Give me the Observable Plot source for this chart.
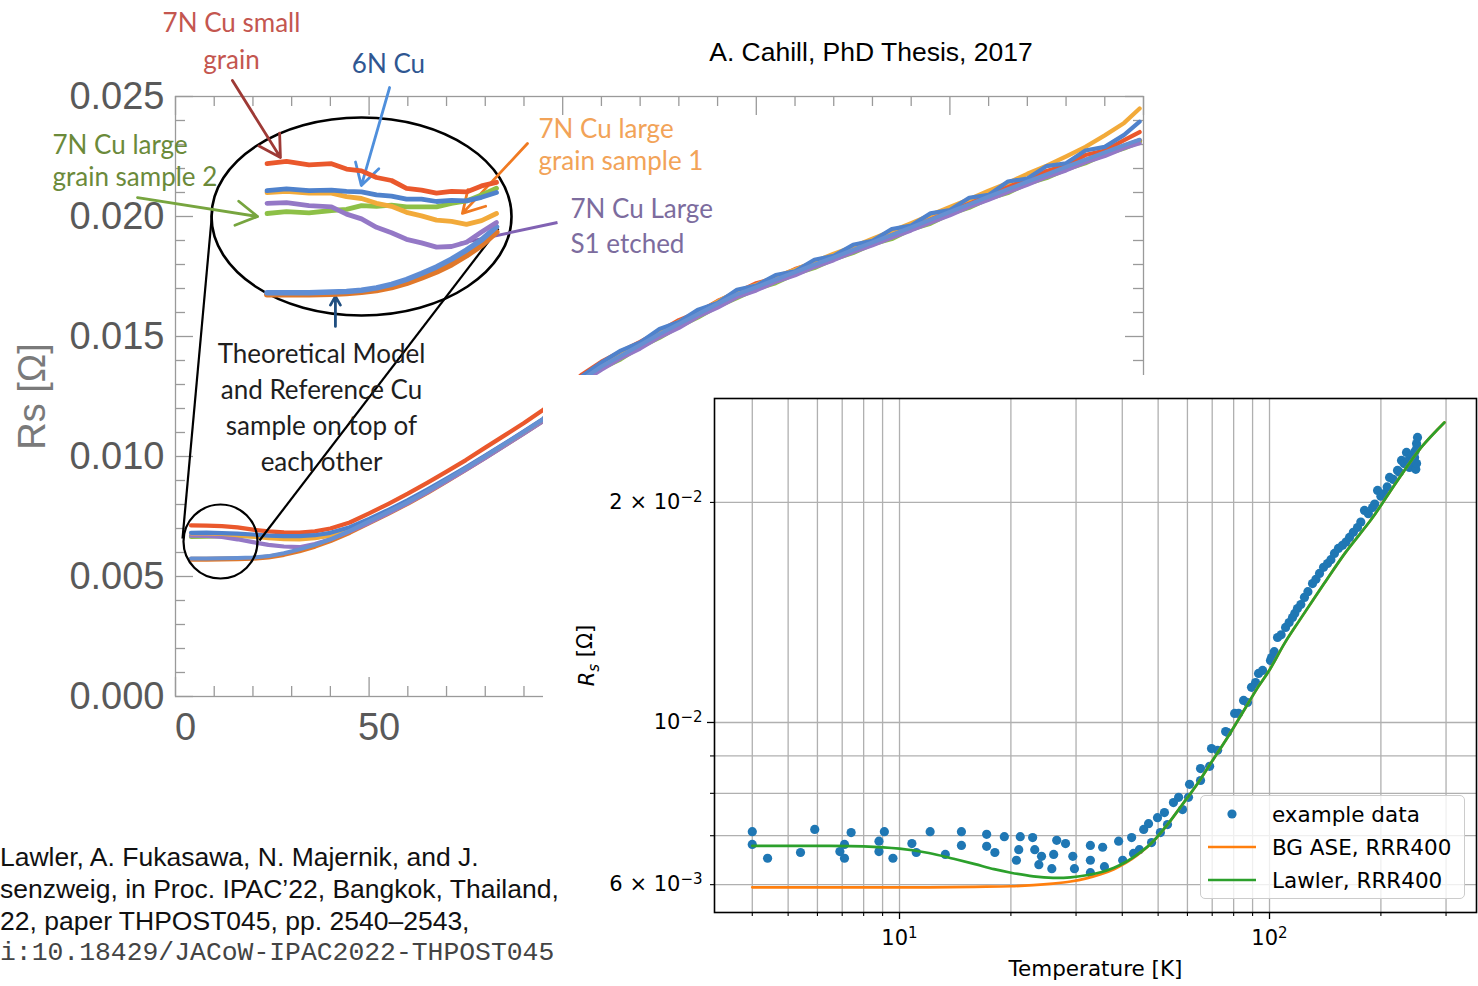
<!DOCTYPE html>
<html>
<head>
<meta charset="utf-8">
<script src="https://cdn.jsdelivr.net/npm/d3@7"></script>
<script src="https://cdn.jsdelivr.net/npm/@observablehq/plot@0.6"></script>
<style>
  html, body { margin: 0; padding: 0; background: #fff; }
  #page { position: relative; width: 1478px; height: 986px; overflow: hidden; background: #fff;
          font-family: "Liberation Sans", Arial, sans-serif; }
  #page > .layer { position: absolute; left: 0; top: 0; }
  #title { position: absolute; left: 871px; top: 52px; transform: translate(-50%, -50%);
           font-size: 26.5px; color: #000; white-space: nowrap; }
  #cite { position: absolute; left: 0; top: 841px; font-size: 26.5px; line-height: 32px; color: #111; white-space: nowrap; z-index: 5; }
  #cite .mono { font-family: "Liberation Mono", "DejaVu Sans Mono", monospace; font-size: 26.4px; color: #444; }
  #rightBox { position: absolute; left: 543px; top: 375px; width: 935px; height: 611px; background: #fff; z-index: 2; }
  #legend { position: absolute; left: 657px; top: 420px; width: 265px; height: 104px; box-sizing: border-box;
            background: rgba(255,255,255,0.8); border: 1px solid #cccccc; border-radius: 5px;
            font-family: "DejaVu Sans", sans-serif; font-size: 21.5px; color: #000; }
  #legend .row { position: absolute; left: 0; height: 30px; width: 100%; }
  #legend .row svg { position: absolute; left: 0; top: 0; }
  #legend .row span { position: absolute; left: 71px; top: 50%; transform: translateY(-50%); white-space: nowrap; }
</style>
</head>
<body>
<div id="page"></div>
<script>
// ================= DATA =================
// ---- Left chart (A. Cahill thesis): Rs [Ω] vs temperature [K], linear axes ----
const leftT = [4, 8, 12, 16, 20, 24, 28, 32, 36, 40, 45, 50, 55, 60, 65, 70, 75, 80, 85, 90, 95,
  100, 105, 110, 115, 120, 125, 130, 135, 140, 145, 150, 155, 160, 165, 170, 175, 180, 185, 190, 195,
  200, 205, 210, 215, 220, 225, 230, 235, 240, 245, 249];

const smallGrain7N = [0.00713, 0.00712, 0.0071, 0.00705, 0.00695, 0.00688, 0.00684, 0.00683, 0.00688, 0.00700, 0.00725, 0.00763, 0.00803, 0.00845, 0.00890, 0.00937, 0.00985, 0.01037, 0.01088, 0.01140, 0.01195,
  0.0127, 0.01342, 0.01395, 0.01437, 0.01478, 0.01522, 0.01568, 0.01601, 0.01648, 0.01684, 0.01722, 0.01744, 0.01781, 0.01806, 0.01842, 0.01866, 0.01905, 0.01928, 0.01966, 0.01992, 0.02031, 0.02058, 0.02092, 0.02126, 0.02151, 0.02190, 0.02214, 0.02256, 0.02275, 0.02318, 0.02352];
const cu6N = [0.00682, 0.00683, 0.00681, 0.00679, 0.00675, 0.00670, 0.00668, 0.00668, 0.00672, 0.00682, 0.00705, 0.00740, 0.00778, 0.00818, 0.00862, 0.00908, 0.00955, 0.01004, 0.01054, 0.01105, 0.01157,
  0.01262, 0.01335, 0.01392, 0.01441, 0.01475, 0.01531, 0.01560, 0.01612, 0.01640, 0.01695, 0.01712, 0.01756, 0.01772, 0.01820, 0.01836, 0.01882, 0.01899, 0.01948, 0.01962, 0.02013, 0.02027, 0.02078, 0.02090, 0.02146, 0.02158, 0.02210, 0.02222, 0.02275, 0.02290, 0.02340, 0.02395];
const largeSample1 = [0.00680, 0.00680, 0.00677, 0.00672, 0.00666, 0.00660, 0.00656, 0.00655, 0.00660, 0.00672, 0.00697, 0.00733, 0.00773, 0.00814, 0.00858, 0.00905, 0.00953, 0.01002, 0.01052, 0.01103, 0.01155,
  0.01258, 0.0133, 0.01385, 0.01432, 0.01472, 0.01520, 0.01562, 0.01602, 0.01645, 0.01688, 0.01716, 0.01750, 0.01778, 0.01812, 0.01845, 0.01874, 0.01908, 0.01940, 0.01972, 0.02006, 0.02040, 0.02072, 0.02108, 0.02140, 0.02178, 0.02212, 0.02250, 0.02290, 0.02338, 0.02390, 0.02450];
const largeSample2 = [0.00665, 0.00666, 0.00668, 0.00668, 0.00667, 0.00665, 0.00662, 0.00660, 0.00662, 0.00670, 0.00692, 0.00727, 0.00766, 0.00808, 0.00852, 0.00899, 0.00947, 0.00996, 0.01047, 0.01098, 0.0115,
  0.01242, 0.01312, 0.01366, 0.01405, 0.01456, 0.01494, 0.01541, 0.01580, 0.01625, 0.01660, 0.01698, 0.01722, 0.01760, 0.01785, 0.01822, 0.01848, 0.01884, 0.01906, 0.01946, 0.01970, 0.02010, 0.02036, 0.02074, 0.02098, 0.02136, 0.02160, 0.02196, 0.02222, 0.02258, 0.02283, 0.02310];
const largeS1Etched = [0.00670, 0.00669, 0.00665, 0.00655, 0.00643, 0.00632, 0.00625, 0.00622, 0.00635, 0.00655, 0.00688, 0.00724, 0.00764, 0.00806, 0.00850, 0.00897, 0.00945, 0.00994, 0.01045, 0.01096, 0.01148,
  0.01240, 0.0131, 0.01362, 0.01410, 0.01450, 0.01498, 0.01536, 0.01584, 0.01620, 0.01664, 0.01692, 0.01728, 0.01755, 0.01790, 0.01818, 0.01852, 0.01880, 0.01912, 0.01942, 0.01975, 0.02005, 0.02040, 0.02070, 0.02102, 0.02132, 0.02165, 0.02192, 0.02226, 0.02252, 0.02285, 0.02305];
const theoryModel = [0.00575, 0.00575, 0.00576, 0.00577, 0.00579, 0.00585, 0.00597, 0.00613, 0.00632, 0.00655, 0.0069, 0.0073, 0.0077, 0.0081, 0.00855, 0.00903, 0.00951, 0.01001, 0.01052, 0.01103, 0.01155,
  0.0125, 0.0132, 0.01375, 0.0142, 0.01465, 0.0151, 0.01552, 0.01594, 0.01636, 0.01676, 0.01706, 0.01737, 0.01768, 0.01799, 0.0183, 0.01861, 0.01892, 0.01923, 0.01955, 0.01987, 0.02019, 0.02051, 0.02083, 0.02114, 0.02145, 0.02176, 0.02207, 0.02237, 0.02267, 0.02297, 0.0232];
const referenceCu = [0.00572, 0.00572, 0.00573, 0.00574, 0.00576, 0.00581, 0.00592, 0.00607, 0.00626, 0.00649, 0.00684, 0.00724, 0.00764, 0.00805, 0.0085, 0.00898, 0.00946, 0.00996, 0.01047, 0.01098, 0.0115,
  0.01246, 0.01316, 0.01371, 0.01416, 0.01461, 0.01506, 0.01548, 0.0159, 0.01632, 0.01672, 0.01702, 0.01733, 0.01764, 0.01795, 0.01826, 0.01857, 0.01888, 0.01919, 0.01951, 0.01983, 0.02015, 0.02047, 0.02079, 0.0211, 0.02141, 0.02172, 0.02203, 0.02233, 0.02263, 0.02293, 0.02316];

// magnified inset (inside the ellipse): low-temperature detail
const insetT = [5.7, 7, 8.5, 10, 11, 12, 13, 14, 15, 16, 17, 18, 19, 20, 21];
const insetSmallGrain = [0.00733, 0.00737, 0.00731, 0.00733, 0.00724, 0.00721, 0.00710, 0.00705, 0.00692, 0.00689, 0.00684, 0.00687, 0.00686, 0.00696, 0.00702];
const inset6N = [0.00688, 0.00691, 0.00688, 0.00689, 0.00687, 0.00686, 0.00681, 0.00679, 0.00674, 0.00674, 0.00670, 0.00672, 0.00671, 0.00677, 0.00685];
const insetSample1 = [0.00685, 0.00687, 0.00684, 0.00684, 0.00678, 0.00675, 0.00667, 0.00662, 0.00652, 0.00646, 0.00639, 0.00637, 0.00632, 0.00638, 0.00650];
const insetSample2 = [0.0065, 0.00653, 0.00651, 0.00655, 0.00657, 0.00663, 0.00662, 0.00664, 0.00661, 0.00661, 0.00661, 0.00667, 0.00671, 0.00681, 0.00692];
const insetEtched = [0.00667, 0.00668, 0.00663, 0.00661, 0.00649, 0.00641, 0.00627, 0.00618, 0.00607, 0.00601, 0.00594, 0.00595, 0.00602, 0.00619, 0.00635];
const insetModel = [0.00518, 0.00518, 0.00518, 0.00519, 0.0052, 0.00522, 0.00526, 0.00532, 0.0054, 0.0055, 0.00561, 0.00574, 0.00589, 0.00606, 0.00628];
const insetReference = [0.00515, 0.00515, 0.00515, 0.00516, 0.00517, 0.00519, 0.00522, 0.00527, 0.00534, 0.00543, 0.00553, 0.00565, 0.00580, 0.00597, 0.00619];

const leftXTicksMajor = [0, 50, 100, 150, 200, 250];
const leftXTicksMinor = [10, 20, 30, 40, 60, 70, 80, 90, 110, 120, 130, 140, 160, 170, 180, 190, 210, 220, 230, 240];
const leftXLabels = [0, 50, 100];
const leftYTicksMajor = [0, 0.005, 0.01, 0.015, 0.02, 0.025];
const leftYTicksMinor = [0.001, 0.002, 0.003, 0.004, 0.006, 0.007, 0.008, 0.009, 0.011, 0.012, 0.013, 0.014, 0.016, 0.017, 0.018, 0.019, 0.021, 0.022, 0.023, 0.024];

// annotations on the left chart (in data units of that chart)
const leftLabels = [
  {T: 14.46, Rs: 0.027396, text: "7N Cu small\ngrain", color: "#c4564f", anchor: "middle", lh: 1.42},
  {T: 55.01, Rs: 0.026375, text: "6N Cu", color: "#2f5792", anchor: "middle", lh: 1.2},
  {T: -31.77, Rs: 0.022375, text: "7N Cu large\ngrain sample 2", color: "#6b8a3a", anchor: "start", lh: 1.23},
  {T: 93.75, Rs: 0.023042, text: "7N Cu large\ngrain sample 1", color: "#f2a358", anchor: "start", lh: 1.23},
  {T: 102.01, Rs: 0.019688, text: "7N Cu Large\nS1 etched", color: "#7c6c9e", anchor: "start", lh: 1.35},
  {T: 37.71, Rs: 0.012125, text: "Theoretical Model\nand Reference Cu\nsample on top of\neach other", color: "#1e1e1e", anchor: "middle", lh: 1.38}
];
const leftArrows = [
  {x1: 14.7, y1: 0.02567, x2: 27.1, y2: 0.02246, color: "#9e3a36"},
  {x1: 55.3, y1: 0.025375, x2: 48.0, y2: 0.02129, color: "#4f8fdc"},
  {x1: -9.8, y1: 0.02079, x2: 21.2, y2: 0.0200, color: "#77a53f"},
  {x1: 90.9, y1: 0.02304, x2: 74.1, y2: 0.02013, color: "#f07a22"},
  {x1: 41.3, y1: 0.01542, x2: 41.3, y2: 0.01667, color: "#1f4e80"}
];
const leftPurpleLine = [{x1: 98.66, y1: 0.01975, x2: 73.3, y2: 0.018875}];
const zoomLinks = [
  {x1: 9.56, y1: 0.020333, x2: 1.81, y2: 0.006583},
  {x1: 83.42, y1: 0.0195, x2: 21.69, y2: 0.0065}
];
const zoomEllipse = [{T: 48.04, Rs: 0.0200}];
const zoomCircle = [{T: 11.62, Rs: 0.006458}];

// ---- Right chart (Lawler et al., IPAC'22): log-log ----
const scatterT = [4.0, 4.0, 4.4, 5.4, 5.9, 6.9, 7.1, 7.1, 7.4, 8.8, 8.8, 9.1, 9.6, 10.8, 11.1, 12.1, 13.3, 14.7, 14.7,
  17.2, 17.2, 18.1, 19.2, 20.7, 21.0, 21.2, 22.9, 23.2, 23.8, 24.2, 25.8, 26.1, 26.6, 28.1, 29.4, 29.7,
  32.8, 32.8, 32.8, 35.4, 35.8, 39.1, 40.1, 42.4, 42.9, 44.5, 45.7, 47.1, 48.0, 49.8, 50.7, 52.0, 53.0,
  55.0, 56.8, 58.2, 60.8, 60.4, 65.1, 65.1, 68.9, 69.7, 72.4, 76.1, 77.0, 80.5, 82.5, 85.1, 87.2, 89.4,
  91.7, 93.4, 95.8, 100.6, 101.3, 103, 105.1, 107.5, 110.5, 113, 115.4, 117, 119.0, 121.5, 124.3, 127,
  130.7, 133.5, 136.5, 140, 143.5, 146.5, 149.8, 153.5, 157.5, 161, 164.5, 168.5, 172.9, 176.5, 180.6,
  185, 189.9, 192.5, 195.9, 200, 204.6, 208, 211.1, 216, 221.8, 224.5, 227.4, 231, 234.6, 237, 239.0,
  242, 244, 245.5, 246.6, 247.5, 248.5, 249.7, 249.7, 250.5, 251.2];
const scatterRs = [0.00709, 0.00681, 0.00652, 0.00664, 0.00714, 0.00666, 0.00681, 0.00652, 0.00707, 0.00688, 0.00666, 0.00709, 0.00652, 0.00683, 0.00664, 0.00709, 0.0066, 0.00709, 0.00679,
  0.00703, 0.00677, 0.00664, 0.00698, 0.00648, 0.0067, 0.00698, 0.00696, 0.0067, 0.00639, 0.00656, 0.00631, 0.0066, 0.0069, 0.00683, 0.00656, 0.00631,
  0.00679, 0.00648, 0.00623, 0.00675, 0.00635, 0.00688, 0.00648, 0.00696, 0.00662, 0.0067, 0.00714, 0.00727, 0.00685, 0.00741, 0.00707, 0.00753, 0.00725,
  0.00777, 0.0079, 0.0076, 0.00823, 0.0079, 0.00865, 0.00833, 0.00871, 0.00921, 0.00916, 0.00972, 0.00969, 0.01029, 0.01029, 0.01072, 0.01065, 0.01117,
  0.01134, 0.01167, 0.01178, 0.01216, 0.01227, 0.0125, 0.01307, 0.01318, 0.01349, 0.0137, 0.01392, 0.0141, 0.01432, 0.0145, 0.01483, 0.0151,
  0.01549, 0.0157, 0.01599, 0.0163, 0.0165, 0.0167, 0.01703, 0.0173, 0.01747, 0.01765, 0.01791, 0.0182, 0.01848, 0.0188, 0.0195,
  0.0193, 0.01968, 0.0199, 0.02077, 0.0204, 0.02057, 0.021, 0.02164, 0.0215, 0.02212, 0.022, 0.02283, 0.0226, 0.02341, 0.0228, 0.02233,
  0.0232, 0.0228, 0.0229, 0.02304, 0.0235, 0.0222, 0.02408, 0.02261, 0.0238, 0.02454];

const bgAseT = [4, 8, 12, 16, 20, 23, 26, 29, 32, 35, 38, 41, 44, 48, 53, 58, 64, 70, 77, 85, 93, 100, 110, 120, 140, 160, 190, 220, 257, 297];
const bgAseRs = [0.00595, 0.00595, 0.00595, 0.00596, 0.00597, 0.00599, 0.00602, 0.00606, 0.00612, 0.0062, 0.0063, 0.00643, 0.00659, 0.00684, 0.00725, 0.00771, 0.00826, 0.00886, 0.00954, 0.01036, 0.01117, 0.0118, 0.01285, 0.01375, 0.01545, 0.01705, 0.01907, 0.0213, 0.02378, 0.02573];
const lawlerT = [4, 6, 8, 10, 12, 14, 16, 18, 20, 23, 26, 29, 32, 35, 38, 41, 44, 48, 53, 58, 64, 70, 77, 85, 93, 100, 110, 120, 140, 160, 190, 220, 257, 297];
const lawlerRs = [0.00678, 0.00678, 0.00677, 0.00672, 0.00663, 0.00651, 0.0064, 0.0063, 0.00623, 0.00616, 0.00613, 0.00614, 0.00618, 0.00624, 0.00633, 0.00645, 0.0066, 0.00684, 0.00725, 0.00771, 0.00826, 0.00886, 0.00954, 0.01036, 0.01117, 0.0118, 0.01285, 0.01375, 0.01545, 0.01705, 0.01907, 0.0213, 0.02378, 0.02573];

const rightXMajor = [10, 100];
const rightXMinor = [4, 5, 6, 7, 8, 9, 20, 30, 40, 50, 60, 70, 80, 90, 200, 300];
const rightYMajor = [0.01];
const rightYMinor = [0.006, 0.007, 0.008, 0.009, 0.02];
// "^" separates the base from the superscript exponent
const rightXTickText = {10: "10^1", 100: "10^2"};
const rightYLabelTicks = [0.02, 0.01, 0.006];
const rightYTickText = {0.02: "2 × 10^−2", 0.01: "10^−2", 0.006: "6 × 10^−3"};
const legendItems = [
  {label: "example data", kind: "dot", color: "#1f77b4"},
  {label: "BG ASE, RRR400", kind: "line", color: "#ff7f0e"},
  {label: "Lawler, RRR400", kind: "line", color: "#2ca02c"}
];

const titleText = "A. Cahill, PhD Thesis, 2017";
const citeLines = ["Lawler, A. Fukasawa, N. Majernik, and J.",
  "senzweig, in Proc. IPAC’22, Bangkok, Thailand,",
  "22, paper THPOST045, pp. 2540–2543,"];
const citeDoi = "i:10.18429/JACoW-IPAC2022-THPOST045";

// ================= BUILD =================
const page = document.getElementById("page");

const leftSeries = [
  {values: referenceCu, color: "#e0782a", w: 5},
  {values: largeSample2, color: "#8dc047", w: 4.2},
  {values: largeS1Etched, color: "#9478c6", w: 4.2},
  {values: smallGrain7N, color: "#ea582c", w: 4.2},
  {values: largeSample1, color: "#f2aa3a", w: 4.2},
  {values: cu6N, color: "#4f82cc", w: 4.2},
  {values: theoryModel, color: "#6690d2", w: 4}
];
const insetSeries = [
  {values: insetReference, color: "#e0782a", w: 6},
  {values: insetModel, color: "#5f8dd4", w: 5.5},
  {values: insetSample2, color: "#8dc047", w: 4.8},
  {values: insetEtched, color: "#9478c6", w: 4.8},
  {values: insetSample1, color: "#f2aa3a", w: 4.8},
  {values: inset6N, color: "#4f82cc", w: 4.8},
  {values: insetSmallGrain, color: "#ea582c", w: 4.8}
];

function ellipseSymbol(aspect) {
  return {draw(ctx, size) {
    const rx = Math.sqrt(size / Math.PI), ry = rx * aspect, k = 0.5523;
    ctx.moveTo(rx, 0);
    ctx.bezierCurveTo(rx, ry * k, rx * k, ry, 0, ry);
    ctx.bezierCurveTo(-rx * k, ry, -rx, ry * k, -rx, 0);
    ctx.bezierCurveTo(-rx, -ry * k, -rx * k, -ry, 0, -ry);
    ctx.bezierCurveTo(rx * k, -ry, rx, -ry * k, rx, 0);
    ctx.closePath();
  }};
}

const LW = 1160, LH = 760;
const frameW = 968, frameH = 600;
const leftMarks = [
  Plot.frame({stroke: "#9a9a9a", strokeWidth: 1.3}),
  Plot.tickX(leftXTicksMajor, {x: d => d, stroke: "#9a9a9a", strokeWidth: 1.3, insetTop: frameH - 19}),
  Plot.tickX(leftXTicksMinor, {x: d => d, stroke: "#9a9a9a", strokeWidth: 1.3, insetTop: frameH - 10}),
  Plot.tickX(leftXTicksMajor, {x: d => d, stroke: "#9a9a9a", strokeWidth: 1.3, insetBottom: frameH - 19}),
  Plot.tickX(leftXTicksMinor, {x: d => d, stroke: "#9a9a9a", strokeWidth: 1.3, insetBottom: frameH - 10}),
  Plot.tickY(leftYTicksMajor, {y: d => d, stroke: "#9a9a9a", strokeWidth: 1.3, insetRight: frameW - 18}),
  Plot.tickY(leftYTicksMinor, {y: d => d, stroke: "#9a9a9a", strokeWidth: 1.3, insetRight: frameW - 10}),
  Plot.tickY(leftYTicksMajor, {y: d => d, stroke: "#9a9a9a", strokeWidth: 1.3, insetLeft: frameW - 18}),
  Plot.tickY(leftYTicksMinor, {y: d => d, stroke: "#9a9a9a", strokeWidth: 1.3, insetLeft: frameW - 10}),
  Plot.text(leftYTicksMajor, {y: d => d, text: d => d3.format(".3f")(d), frameAnchor: "left", dx: -11,
    textAnchor: "end", lineAnchor: "middle", fontSize: 38, fill: "#595959", fontFamily: "Liberation Sans"}),
  Plot.text(leftXLabels, {x: d => d, text: d => String(d), frameAnchor: "bottom", dy: 31, dx: 10,
    textAnchor: "middle", lineAnchor: "middle", fontSize: 38, fill: "#595959", fontFamily: "Liberation Sans"}),
  Plot.text(["Rs [Ω]"], {frameAnchor: "left", dx: -143, rotate: -90, textAnchor: "middle", lineAnchor: "middle",
    fontSize: 38, fill: "#7a7a7a", fontFamily: "Liberation Sans"})
];
for (const s of leftSeries) {
  leftMarks.push(Plot.line(leftT.map((t, i) => ({T: t, Rs: s.values[i]})),
    {x: "T", y: "Rs", stroke: s.color, strokeWidth: s.w, strokeLinejoin: "round"}));
}
leftMarks.push(
  Plot.dot(zoomEllipse, {x: "T", y: "Rs", r: 150, symbol: ellipseSymbol(0.66), fill: "none", stroke: "#000", strokeWidth: 2.6}),
  Plot.dot(zoomCircle, {x: "T", y: "Rs", r: 37, fill: "none", stroke: "#000", strokeWidth: 2.2}),
  Plot.link(zoomLinks, {x1: "x1", y1: "y1", x2: "x2", y2: "y2", stroke: "#000", strokeWidth: 2.2}),
  Plot.link(leftPurpleLine, {x1: "x1", y1: "y1", x2: "x2", y2: "y2", stroke: "#8162b3", strokeWidth: 3}),
  Plot.arrow(leftArrows, {x1: "x1", y1: "y1", x2: "x2", y2: "y2", stroke: "color", strokeWidth: 2.8, headLength: 13}),
);
for (const l of leftLabels) {
  leftMarks.push(Plot.text([l], {x: "T", y: "Rs", text: "text", fill: l.color, textAnchor: l.anchor,
    lineAnchor: "middle", lineHeight: l.lh, fontSize: 26, fontFamily: "Lato"}));
}

const leftPlot = Plot.plot({
  width: LW, height: LH,
  marginLeft: 175, marginRight: LW - 1143, marginTop: 96, marginBottom: LH - 696,
  x: {domain: [0, 250], axis: null},
  y: {domain: [0, 0.025], axis: null},
  color: {type: "identity"},
  style: {background: "transparent", overflow: "visible"},
  marks: leftMarks
});
leftPlot.classList.add("layer");
page.appendChild(leftPlot);

// inset (magnified view inside the ellipse)
const insetMarks = [];
for (const s of insetSeries) {
  insetMarks.push(Plot.line(insetT.map((t, i) => ({T: t, Rs: s.values[i]})),
    {x: "T", y: "Rs", stroke: s.color, strokeWidth: s.w, strokeLinejoin: "round"}));
}
const insetPlot = Plot.plot({
  width: LW, height: LH,
  x: {domain: [2, 22], range: [211, 511], axis: null},
  y: {domain: [0.0048, 0.0081], range: [315, 117], axis: null},
  style: {background: "transparent", overflow: "visible"},
  marks: insetMarks
});
insetPlot.classList.add("layer");
page.appendChild(insetPlot);

// right chart
const rightBox = document.createElement("div");
rightBox.id = "rightBox";
page.appendChild(rightBox);

const scatterRows = scatterT.map((t, i) => ({T: t, Rs: scatterRs[i]}));
const bgRows = bgAseT.map((t, i) => ({T: t, Rs: bgAseRs[i]}));
const lawRows = lawlerT.map((t, i) => ({T: t, Rs: lawlerRs[i]}));

const rightPlot = Plot.plot({
  width: 935, height: 611,
  marginLeft: 171, marginRight: 2, marginTop: 23, marginBottom: 74,
  x: {type: "log", domain: [3.162, 362.6], axis: null, label: null},
  y: {type: "log", domain: [0.0054963, 0.027745], axis: null, label: null},
  style: {background: "#fff", fontFamily: "'DejaVu Sans', sans-serif", fontSize: "21px", color: "#000", overflow: "visible"},
  marks: [
    Plot.ruleX(rightXMajor.concat(rightXMinor), {x: d => d, stroke: "#b0b0b0", strokeWidth: 1.3}),
    Plot.ruleY(rightYMajor.concat(rightYMinor), {y: d => d, stroke: "#b0b0b0", strokeWidth: 1.3}),
    Plot.dot(scatterRows, {x: "T", y: "Rs", r: 4.6, fill: "#1f77b4", stroke: "none"}),
    Plot.line(bgRows, {x: "T", y: "Rs", stroke: "#ff7f0e", strokeWidth: 2.7, curve: "catmull-rom"}),
    Plot.line(lawRows, {x: "T", y: "Rs", stroke: "#2ca02c", strokeWidth: 2.7, curve: "catmull-rom"}),
    Plot.frame({stroke: "#000", strokeWidth: 1.6}),
    Plot.axisX(rightXMajor, {tickSize: 7, tickPadding: 11, tickFormat: d => rightXTickText[d], label: null,
      stroke: "#000", strokeWidth: 1.3, fontSize: 21, fill: "#000"}),
    Plot.axisX(rightXMinor, {tickSize: 4, tickFormat: () => "", label: null, stroke: "#000", strokeWidth: 1.1}),
    Plot.axisY(rightYMajor, {tickSize: 7, tickFormat: () => "", label: null, stroke: "#000", strokeWidth: 1.3}),
    Plot.axisY(rightYMinor, {tickSize: 4, tickFormat: () => "", label: null, stroke: "#000", strokeWidth: 1.1}),
    Plot.axisY(rightYLabelTicks, {tickSize: 0, tickPadding: 12, tickFormat: d => rightYTickText[d], label: null,
      fontSize: 21, fill: "#000"}),
    Plot.text(["Temperature [K]"], {frameAnchor: "bottom", dy: 57, textAnchor: "middle", lineAnchor: "middle", fontSize: 21.5, fill: "#000"}),
    Plot.text(["Rs [Ω]"], {frameAnchor: "left", dx: -127, rotate: -90, textAnchor: "middle", lineAnchor: "middle", fontSize: 21, fill: "#000"})
  ]
});
rightBox.appendChild(rightPlot);

// superscript exponents in tick labels
Array.from(rightPlot.querySelectorAll("text")).forEach(t => {
  const s = t.textContent;
  if (s.includes("^")) {
    const [base, exp] = s.split("^");
    const sel = d3.select(t);
    sel.text(null);
    sel.append("tspan").text(base);
    sel.append("tspan").attr("font-size", "15px").attr("dy", "-0.5em").text(exp);
  }
});
// italic R with subscript s for the y label
const rsText = Array.from(rightPlot.querySelectorAll("text")).find(t => t.textContent === "Rs [Ω]");
if (rsText) {
  const sel = d3.select(rsText);
  sel.text(null);
  sel.append("tspan").attr("font-style", "italic").text("R");
  sel.append("tspan").attr("font-style", "italic").attr("font-size", "15px").attr("dy", "0.3em").text("s");
  sel.append("tspan").attr("dy", "-0.3em").text(" [Ω]");
}

// legend
const legend = document.createElement("div");
legend.id = "legend";
legendItems.forEach((item, i) => {
  const row = document.createElement("div");
  row.className = "row";
  row.style.top = (3 + i * 33) + "px";
  const marker = item.kind === "dot"
    ? `<svg width="62" height="30"><circle cx="31" cy="15" r="4.6" fill="${item.color}"/></svg>`
    : `<svg width="62" height="30"><line x1="7" x2="55" y1="15" y2="15" stroke="${item.color}" stroke-width="2.7"/></svg>`;
  row.innerHTML = marker + `<span>${item.label}</span>`;
  legend.appendChild(row);
});
rightBox.appendChild(legend);

// title and citation (on top of everything)
const title = document.createElement("div");
title.id = "title"; title.textContent = titleText;
page.appendChild(title);
const cite = document.createElement("div");
cite.id = "cite";
cite.innerHTML = citeLines.map(l => `<div>${l}</div>`).join("") + `<div class="mono">${citeDoi}</div>`;
page.appendChild(cite);
</script>
</body>
</html>
